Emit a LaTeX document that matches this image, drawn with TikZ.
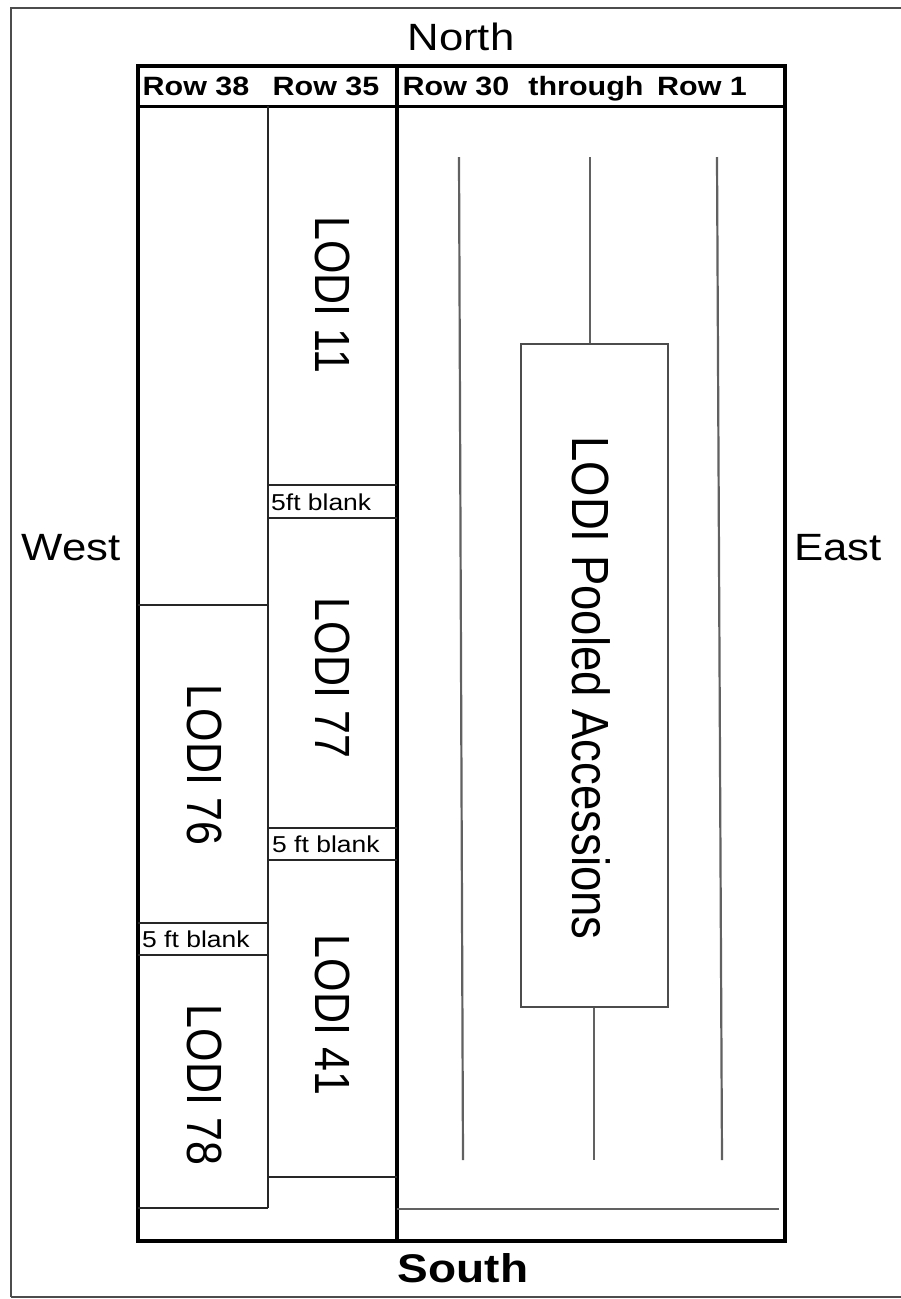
\documentclass[tikz,border=0pt]{standalone}
\usepackage{fontspec}
\setmainfont{Liberation Sans}
\usepackage{graphicx}
\newcommand{\hst}[1]{\scalebox{1.15}[1]{#1}}
\newcommand{\vst}[1]{\scalebox{1}[1.15]{#1}}
\begin{document}
\begin{tikzpicture}[x=1pt,y=-1pt,
  frame/.style={line width=4pt,draw=black},
  thick rule/.style={line width=3pt,draw=black},
  thin rule/.style={line width=1.8pt,draw=black!85},
  gray rule/.style={line width=2.2pt,draw=black!62},
  compass/.style={inner sep=0pt,anchor=base,font=\fontsize{38}{44}\selectfont},
  headtxt/.style={inner sep=0pt,anchor=base,font=\bfseries\fontsize{26.5}{30}\selectfont},
  blanktxt/.style={inner sep=0pt,anchor=base west,font=\fontsize{23}{26}\selectfont},
  lodi/.style={inner sep=0pt,rotate=-90,font=\fontsize{43}{50}\selectfont},
  pooledbox/.style={draw=black!70,line width=2pt,minimum width=147pt,minimum height=663pt,inner sep=0pt}]
\useasboundingbox (0,0) rectangle (901,1299);
\clip (0,0) rectangle (901,1299);
\fill[white] (0,0) rectangle (901,1299);
% outer border
\draw[line width=2pt,draw=black!70] (11,1297) -- (11,8) -- (920,8);
\draw[line width=2pt,draw=black!70] (11,1297) -- (920,1297);
% main frame
\draw[frame] (138,66) rectangle (785,1241);
\draw[thick rule] (138,106) -- (785,106);
\draw[line width=3.5pt] (397,66) -- (397,1241);
% column divider
\draw[thin rule] (268,106) -- (268,1208);
% left column (Row 38)
\draw[thin rule] (138,605) -- (268,605);
\draw[thin rule] (138,923) -- (268,923);
\draw[thin rule] (138,955) -- (268,955);
\draw[thin rule] (138,1208) -- (268,1208);
% Row 35 column
\draw[thin rule] (268,485) -- (397,485);
\draw[thin rule] (268,518) -- (397,518);
\draw[thin rule] (268,828) -- (397,828);
\draw[thin rule] (268,860) -- (397,860);
\draw[thin rule] (268,1177) -- (397,1177);
% right area
\draw[gray rule] (397,1209) -- (779,1209);
\node[pooledbox] (pool) at (594.5,675.5) {};
\node[lodi] (pooltxt) at (591,688) {\vst{\fontsize{45.5}{52}\selectfont LODI Pooled Accessions}};
\coordinate (l1t) at (459,157); \coordinate (l1b) at (463,1160);
\coordinate (l2t) at (590,157); \coordinate (l2b) at (594,1160);
\coordinate (l3t) at (717,157); \coordinate (l3b) at (722,1160);
\draw[gray rule] (l1t) -- (l1b);
\draw[gray rule] (l3t) -- (l3b);
\draw[gray rule] (l2t) -- (l2t |- pool.north);
\draw[gray rule] (l2b |- pool.south) -- (l2b);
% compass labels
\node[compass] (north) at (461,50) {\hst{North}};
\node[compass,font=\bfseries\fontsize{40}{46}\selectfont] (south) at (463,1282) {\hst{South}};
\node[compass] (west) at (71,560) {\hst{West}};
\node[compass] (east) at (838,560) {\hst{East}};
% header
\node[headtxt] (h38) at (196,95) {\hst{Row 38}};
\node[headtxt] (h35) at (326,95) {\hst{Row 35}};
\node[headtxt] (h30) at (456,95) {\hst{Row 30}};
\node[headtxt] (hth) at (586,95) {\hst{through}};
\node[headtxt] (h1) at (702,95) {\hst{Row 1}};
% blanks
\node[blanktxt] (b1) at (271,510) {\hst{5ft blank}};
\node[blanktxt] (b2) at (272,852) {\hst{5 ft blank}};
\node[blanktxt] (b3) at (142,947) {\hst{5 ft blank}};
% LODI labels
\node[lodi] (l11) at (333,295) {\vst{LODI 11}};
\node[lodi] (l77) at (333,678) {\vst{LODI 77}};
\node[lodi] (l41) at (333,1015) {\vst{LODI 41}};
\node[lodi] (l76) at (205,765) {\vst{LODI 76}};
\node[lodi] (l78) at (205,1085) {\vst{LODI 78}};
\end{tikzpicture}
\end{document}
